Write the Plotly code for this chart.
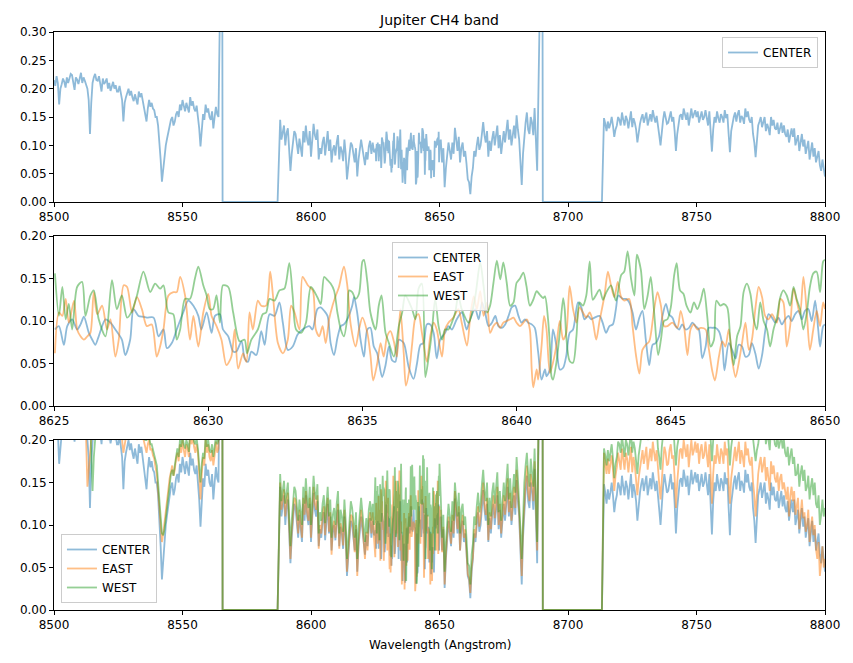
import numpy as np
import plotly.graph_objects as go

# ---------------- wide-range spectra (8500-8800 A, 0.5 A sampling) ----------------
WL_SEG1 = np.arange(8500, 8564.01, 0.5)      # 8500..8564
WL_SEG2A = np.arange(8588, 8624.51, 0.5)     # 8588..8624.5
WL_SEG2B = np.arange(8650.5, 8688.01, 0.5)   # 8650.5..8688
WL_SEG3 = np.arange(8714, 8800.01, 0.5)      # 8714..8800
GAP1_WL = [8565.4, 8565.6, 8587.0]
GAP2_WL = [8690.0, 8690.2, 8713.2]
GAP_FLUX = [0.62, 0.0, 0.0]

CENTER_SEG1 = [.215, .205, .222, .210, .172, .200, .208, .218, .212, .202, .220, .210, .218, .226, .224, .212,
               .198, .220, .216, .208, .222, .228, .210, .220, .214, .205, .200, .180, .120, .175, .210, .220,
               .226, .215, .214, .222, .205, .195, .218, .208, .212, .218, .200, .210, .196, .205, .212, .200,
               .206, .195, .195, .205, .190, .180, .142, .175, .185, .195, .200, .188, .196, .185, .178, .190,
               .183, .172, .195, .185, .192, .180, .170, .160, .142, .165, .180, .168, .175, .165, .162, .150,
               .150, .135, .110, .075, .036, .060, .090, .100, .112, .125, .135, .145, .150, .135, .142, .155,
               .160, .150, .172, .162, .180, .168, .160, .175, .168, .158, .185, .170, .178, .165, .160, .170,
               .150, .130, .098, .130, .155, .145, .172, .158, .165, .150, .145, .160, .130, .150, .168, .155,
               .150]
EAST_SEG1 = [.235, .228, .240, .230, .215, .225, .232, .240, .230, .222, .238, .228, .240, .245, .232, .226,
             .225, .238, .236, .228, .235, .242, .228, .236, .230, .200, .145, .170, .200, .225, .232, .240,
             .240, .232, .230, .238, .225, .215, .236, .228, .235, .240, .222, .230, .220, .228, .232, .222,
             .230, .218, .218, .226, .215, .200, .185, .195, .205, .215, .222, .212, .225, .212, .205, .215,
             .210, .200, .222, .210, .215, .205, .198, .188, .185, .195, .200, .188, .190, .182, .178, .168,
             .160, .140, .120, .095, .080, .090, .105, .118, .130, .142, .155, .165, .170, .158, .165, .178,
             .185, .175, .195, .185, .200, .188, .180, .195, .190, .180, .208, .195, .205, .192, .185, .195,
             .185, .160, .130, .160, .180, .170, .200, .185, .195, .180, .175, .188, .170, .182, .198, .185,
             .190]
WEST_SEG1 = [.245, .238, .250, .240, .225, .235, .242, .250, .240, .232, .248, .238, .245, .250, .240, .235,
             .235, .246, .245, .238, .240, .248, .236, .242, .240, .232, .230, .238, .225, .185, .140, .180,
             .215, .232, .240, .232, .235, .242, .245, .236, .240, .246, .232, .240, .230, .238, .240, .230,
             .235, .226, .228, .236, .225, .210, .200, .205, .215, .225, .232, .222, .235, .225, .218, .228,
             .220, .212, .232, .220, .225, .215, .210, .200, .200, .210, .205, .195, .195, .188, .185, .178,
             .170, .150, .130, .105, .090, .088, .095, .108, .120, .138, .150, .160, .165, .158, .170, .182,
             .190, .180, .200, .192, .205, .195, .190, .200, .195, .186, .212, .200, .210, .198, .195, .202,
             .190, .170, .150, .172, .185, .178, .205, .192, .200, .188, .185, .195, .180, .192, .205, .195,
             .200]

CENTER_SEG2A = [.145, .110, .120, .135, .100, .122, .130, .090, .055, .085, .105, .125, .120, .098, .085, .112,
                .095, .080, .125, .105, .135, .110, .100, .125, .080, .105, .138, .118, .110, .128, .075, .095,
                .085, .105, .115, .082, .110, .125, .090, .110, .070, .092, .100, .082, .105, .118, .075, .098,
                .090, .072, .110, .085, .040, .070, .085, .105, .100, .085, .070, .095, .045, .075, .095, .110,
                .095, .078, .065, .088, .075, .098, .108, .085, .105, .088]
CENTER_SEG2B = [.110, .070, .095, .026, .060, .085, .105, .090, .075, .105, .085, .131, .110, .090, .115, .070,
                .095, .105, .080, .090, .068, .040, .035, .014, .045, .060, .090, .080, .100, .115, .092, .100,
                .120, .141, .118, .105, .125, .080, .108, .090, .112, .125, .100, .120, .135, .095, .118, .085,
                .110, .125, .105, .130, .145, .110, .128, .100, .118, .135, .112, .153, .128, .110, .070, .030,
                .085, .120, .140, .158, .128, .120, .150, .140, .118, .166, .110, .055]
EAST_SEG2A = [.150, .118, .128, .142, .110, .130, .138, .098, .060, .092, .112, .132, .130, .105, .090, .118,
              .100, .085, .132, .112, .140, .115, .105, .132, .085, .110, .145, .125, .118, .135, .072, .100,
              .090, .112, .122, .088, .120, .132, .092, .115, .065, .098, .105, .085, .110, .125, .072, .102,
              .095, .076, .118, .090, .045, .075, .090, .112, .110, .090, .068, .100, .040, .080, .100, .118,
              .100, .082, .060, .092, .070, .105, .115, .090, .115, .085]
EAST_SEG2B = [.118, .068, .098, .030, .065, .088, .110, .095, .078, .112, .090, .140, .115, .095, .122, .070,
              .100, .112, .085, .095, .070, .042, .038, .020, .050, .062, .095, .085, .108, .122, .098, .110,
              .130, .150, .125, .112, .132, .082, .115, .095, .120, .135, .108, .130, .145, .100, .125, .090,
              .118, .135, .112, .140, .155, .115, .138, .105, .128, .145, .120, .165, .138, .115, .078, .040,
              .095, .130, .150, .170, .138, .128, .160, .150, .128, .175, .120, .070]
WEST_SEG2A = [.160, .128, .140, .152, .125, .142, .150, .110, .075, .105, .125, .145, .140, .118, .105, .130,
              .115, .100, .145, .125, .155, .130, .120, .145, .100, .125, .158, .138, .130, .148, .090, .115,
              .105, .125, .135, .102, .130, .145, .110, .130, .085, .112, .120, .100, .125, .140, .090, .118,
              .110, .092, .130, .105, .060, .090, .105, .128, .120, .105, .085, .115, .060, .095, .115, .132,
              .115, .098, .080, .108, .090, .118, .128, .105, .125, .100]
WEST_SEG2B = [.132, .085, .112, .045, .080, .100, .125, .110, .092, .128, .105, .150, .130, .110, .138, .090,
              .118, .125, .100, .110, .085, .055, .052, .030, .065, .078, .110, .100, .122, .138, .115, .125,
              .148, .165, .140, .128, .150, .100, .132, .110, .138, .150, .125, .145, .162, .115, .140, .105,
              .135, .150, .128, .155, .172, .130, .155, .120, .145, .160, .138, .180, .155, .130, .095, .060,
              .115, .150, .170, .185, .160, .145, .178, .165, .145, .190, .140, .080]

CENTER_SEG3 = [.148, .138, .125, .142, .130, .138, .150, .135, .115, .128, .135, .150, .145, .135, .158, .145,
               .135, .152, .145, .130, .150, .160, .132, .148, .140, .128, .105, .125, .138, .148, .155, .140,
               .148, .158, .135, .145, .155, .142, .162, .150, .140, .152, .130, .118, .100, .130, .145, .160,
               .150, .138, .140, .152, .160, .142, .150, .125, .090, .120, .140, .152, .155, .145, .165, .152,
               .145, .158, .135, .150, .165, .148, .155, .162, .150, .160, .140, .152, .160, .145, .150, .162,
               .145, .135, .160, .130, .089, .128, .150, .140, .160, .148, .140, .155, .150, .140, .162, .148,
               .155, .120, .088, .125, .140, .150, .158, .142, .155, .162, .140, .152, .148, .138, .165, .150,
               .160, .145, .140, .150, .120, .105, .079, .110, .135, .142, .150, .132, .140, .150, .125, .138,
               .130, .118, .150, .135, .145, .130, .128, .140, .120, .132, .140, .122, .135, .120, .115, .128,
               .105, .118, .130, .115, .130, .100, .110, .118, .090, .102, .120, .098, .110, .085, .095, .108,
               .075, .090, .105, .080, .095, .070, .080, .090, .065, .055, .075, .060, .045]
EAST_SEG3 = [.185, .172, .160, .178, .160, .172, .182, .165, .140, .158, .168, .185, .175, .165, .190, .178,
             .165, .185, .178, .162, .180, .192, .162, .180, .170, .155, .135, .155, .168, .182, .188, .172,
             .180, .192, .165, .178, .190, .175, .198, .185, .175, .188, .160, .148, .130, .160, .175, .192,
             .185, .170, .172, .188, .195, .178, .182, .155, .120, .150, .172, .188, .190, .178, .200, .188,
             .180, .195, .168, .185, .200, .182, .188, .198, .185, .196, .172, .188, .195, .178, .182, .198,
             .180, .168, .195, .160, .125, .160, .182, .172, .195, .180, .172, .190, .185, .172, .198, .182,
             .190, .150, .125, .155, .170, .185, .192, .175, .190, .198, .172, .188, .180, .168, .198, .182,
             .190, .175, .170, .180, .150, .135, .110, .140, .160, .172, .180, .162, .170, .180, .152, .168,
             .155, .140, .175, .160, .170, .155, .150, .162, .140, .155, .160, .142, .150, .138, .130, .145,
             .110, .135, .145, .128, .140, .112, .120, .132, .095, .115, .130, .108, .115, .092, .100, .118,
             .080, .098, .110, .088, .100, .072, .060, .080, .040, .055, .075, .050, .060]
WEST_SEG3 = [.190, .182, .170, .188, .175, .185, .195, .178, .155, .172, .180, .198, .195, .185, .205, .192,
             .180, .200, .195, .182, .200, .210, .185, .198, .190, .175, .160, .182, .195, .208, .215, .202,
             .210, .222, .200, .212, .220, .208, .228, .215, .205, .218, .190, .180, .165, .192, .210, .222,
             .215, .202, .205, .218, .225, .210, .215, .190, .170, .192, .205, .218, .220, .208, .230, .218,
             .215, .225, .205, .220, .230, .215, .222, .232, .220, .230, .210, .222, .230, .212, .220, .232,
             .215, .205, .228, .200, .175, .200, .215, .205, .225, .212, .210, .222, .215, .205, .228, .215,
             .220, .190, .170, .192, .205, .218, .225, .212, .225, .232, .210, .222, .215, .205, .228, .215,
             .220, .210, .205, .215, .200, .185, .175, .188, .195, .208, .215, .200, .215, .222, .195, .208,
             .200, .188, .215, .200, .210, .195, .192, .205, .190, .198, .205, .190, .200, .185, .180, .192,
             .170, .182, .190, .172, .180, .158, .160, .172, .145, .160, .170, .152, .165, .140, .145, .158,
             .130, .145, .155, .135, .150, .125, .120, .135, .100, .112, .130, .110, .120]

# ---------------- zoomed spectra (8625-8650 A) ----------------
MID_WL0 = 8625.0
CENTER_MID_DWL = [0.03, 0.16, 0.32, 0.43, 0.59, 0.75, 0.86, 0.97, 1.13, 1.24, 1.34, 1.45, 1.67, 1.83, 1.99, 2.20,
                  2.31, 2.47, 2.58, 2.74, 2.90, 3.01, 3.23, 3.39, 3.55, 3.66, 3.82, 3.98, 4.19, 4.35, 4.52, 4.68,
                  4.78, 4.95, 5.11, 5.22, 5.38, 5.48, 5.65, 5.81, 5.91, 6.08, 6.18, 6.29, 6.40, 6.56, 6.72, 6.83,
                  6.99, 7.15, 7.31, 7.42, 7.58, 7.74, 7.90, 8.06, 8.28, 8.38, 8.54, 8.65, 8.76, 8.87, 8.97, 9.08,
                  9.19, 9.30, 9.40, 9.51, 9.67, 9.73, 9.83, 9.94, 10.05, 10.16, 10.26, 10.37, 10.48, 10.64, 10.75,
                  10.86, 10.96, 11.07, 11.18, 11.34, 11.50, 11.66, 11.77, 11.88, 11.98, 12.09, 12.20, 12.31, 12.41,
                  12.52, 12.68, 12.79, 12.90, 13.06, 13.22, 13.38, 13.49, 13.66, 13.77, 13.88, 13.98, 14.09, 14.20,
                  14.31, 14.41, 14.52, 14.63, 14.74, 14.84, 14.95, 15.06, 15.16, 15.27, 15.38, 15.49, 15.59, 15.70,
                  15.81, 15.92, 15.97, 16.08, 16.18, 16.29, 16.40, 16.51, 16.61, 16.72, 16.83, 16.99, 17.10, 17.20,
                  17.31, 17.42, 17.53, 17.69, 17.79, 17.90, 18.01, 18.12, 18.22, 18.30, 18.44, 18.55, 18.65, 18.76,
                  18.87, 18.98, 19.08, 19.19, 19.30, 19.41, 19.51, 19.62, 19.73, 19.84, 19.94, 20.05, 20.16, 20.27,
                  20.37, 20.48, 20.59, 20.70, 20.80, 20.91, 21.02, 21.13, 21.23, 21.34, 21.45, 21.56, 21.67, 21.74,
                  21.88, 21.99, 22.10, 22.20, 22.31, 22.42, 22.53, 22.63, 22.74, 22.85, 22.96, 23.06, 23.17, 23.28,
                  23.39, 23.49, 23.60, 23.71, 23.82, 23.92, 24.03, 24.14, 24.25, 24.35, 24.46, 24.57, 24.68, 24.78,
                  24.84, 24.94, 25.00]
CENTER_MID = [.090, .094, .072, .094, .102, .090, .096, .105, .086, .078, .072, .082, .102, .098, .090, .078,
              .060, .078, .114, .106, .105, .104, .104, .082, .090, .068, .074, .090, .110, .124, .118, .106,
              .090, .110, .086, .106, .108, .090, .082, .064, .064, .076, .056, .052, .064, .060, .088, .072,
              .108, .106, .122, .098, .066, .070, .084, .090, .094, .090, .114, .116, .112, .106, .074, .060,
              .080, .094, .096, .102, .118, .128, .110, .078, .058, .090, .092, .070, .062, .034, .048,
              .070, .054, .052, .078, .074, .046, .032, .050, .072, .074, .096, .096, .086, .056,
              .078, .086, .094, .090, .102, .110, .090, .102, .114, .102, .122, .110, .094, .098,
              .106, .094, .092, .096, .106, .116, .118, .106, .098, .102, .098, .096, .092, .063,
              .031, .043, .035, .043, .090, .071, .043, .045, .059, .086, .090, .122, .116, .102,
              .106, .102, .104, .106, .098, .086, .094, .096, .114, .130, .126, .126, .122, .110,
              .090, .104, .112, .078, .048, .072, .074, .082, .106, .120, .108, .104, .094, .090,
              .096, .090, .092, .098, .094, .090, .056, .070, .092, .092, .092, .088, .072, .042,
              .074, .066, .056, .072, .070, .058, .060, .074, .062, .044, .060, .088, .108, .104,
              .098, .104, .096, .102, .106, .100, .108, .112, .102, .112, .114, .100, .124, .090,
              .070, .094, .096]

EAST_MID_DWL = [0.03, 0.16, 0.27, 0.38, 0.48, 0.65, 0.75, 0.86, 0.97, 1.08, 1.18, 1.29, 1.40, 1.56, 1.72, 1.83,
                1.99, 2.10, 2.26, 2.37, 2.53, 2.69, 2.85, 3.01, 3.17, 3.33, 3.44, 3.55, 3.71, 3.87, 3.98, 4.09,
                4.25, 4.41, 4.52, 4.68, 4.84, 5.00, 5.11, 5.27, 5.43, 5.59, 5.75, 5.86, 5.97, 6.13, 6.24, 6.34,
                6.45, 6.61, 6.72, 6.88, 7.01, 7.10, 7.26, 7.42, 7.58, 7.69, 7.80, 7.96, 8.06, 8.23, 8.39, 8.49,
                8.60, 8.71, 8.81, 8.92, 9.03, 9.14, 9.24, 9.40, 9.51, 9.62, 9.78, 9.89, 10.00, 10.16, 10.26, 10.35,
                10.48, 10.59, 10.69, 10.80, 10.91, 11.02, 11.12, 11.23, 11.34, 11.41, 11.52, 11.61, 11.72, 11.82,
                11.93, 12.09, 12.20, 12.31, 12.41, 12.58, 12.68, 12.79, 12.95, 13.11, 13.22, 13.39, 13.50, 13.61,
                13.71, 13.82, 13.93, 14.04, 14.14, 14.25, 14.36, 14.47, 14.57, 14.68, 14.79, 14.90, 15.00, 15.11,
                15.22, 15.33, 15.43, 15.49, 15.54, 15.65, 15.70, 15.81, 15.89, 15.97, 16.08, 16.18, 16.29, 16.40,
                16.51, 16.61, 16.72, 16.83, 16.94, 17.04, 17.15, 17.26, 17.37, 17.47, 17.58, 17.69, 17.85, 17.96,
                18.06, 18.17, 18.28, 18.39, 18.49, 18.65, 18.76, 18.87, 18.98, 19.08, 19.19, 19.30, 19.46, 19.57,
                19.68, 19.78, 19.89, 20.05, 20.21, 20.32, 20.43, 20.54, 20.64, 20.75, 20.86, 20.97, 21.13, 21.23,
                21.34, 21.43, 21.56, 21.67, 21.77, 21.88, 21.99, 22.10, 22.20, 22.31, 22.42, 22.53, 22.63, 22.74,
                22.85, 22.96, 23.06, 23.17, 23.28, 23.44, 23.55, 23.65, 23.76, 23.87, 23.98, 24.08, 24.19, 24.30,
                24.41, 24.51, 24.62, 24.73, 24.84, 24.94, 25.00]
EAST_MID = [.062, .110, .106, .126, .098, .124, .090, .082, .078, .082, .086, .134, .108, .118, .090, .102,
            .058, .078, .142, .140, .110, .128, .114, .094, .096, .058, .070, .090, .130, .134, .134, .152,
            .130, .078, .106, .070, .110, .132, .106, .094, .078, .048, .058, .090, .044, .062, .052, .110,
            .090, .124, .118, .118, .158, .130, .074, .062, .078, .118, .110, .090, .152, .142, .136, .090,
            .082, .094, .074, .102, .118, .130, .140, .164, .142, .096, .070, .090, .104, .086, .060, .030,
            .050, .074, .058, .082, .088, .076, .058, .114, .062, .024, .042, .072, .104, .108,
            .086, .052, .082, .098, .090, .058, .090, .098, .104, .114, .098, .071, .106, .129,
            .114, .135, .106, .122, .086, .094, .098, .092, .098, .100, .102, .104, .098, .094,
            .098, .102, .090, .043, .022, .043, .031, .071, .106, .090, .039, .051, .071, .100,
            .078, .086, .141, .114, .098, .116, .110, .104, .110, .100, .078, .100, .130, .158,
            .142, .128, .146, .128, .124, .126, .094, .060, .038, .066, .072, .076, .114, .134,
            .118, .094, .094, .098, .092, .112, .094, .060, .090, .096, .090, .092, .090, .068,
            .042, .030, .058, .076, .070, .090, .054, .034, .050, .074, .098, .066, .078, .114,
            .140, .128, .106, .102, .108, .098, .126, .122, .070, .094, .138, .124, .108, .152,
            .110, .066, .090, .112, .094, .122, .114]

WEST_MID_DWL = [0.03, 0.16, 0.27, 0.38, 0.48, 0.59, 0.75, 0.91, 1.02, 1.18, 1.29, 1.45, 1.67, 1.88, 2.04, 2.20,
                2.37, 2.53, 2.69, 2.90, 3.12, 3.28, 3.44, 3.55, 3.71, 3.87, 3.98, 4.09, 4.25, 4.41, 4.57, 4.68,
                4.84, 4.95, 5.05, 5.16, 5.27, 5.38, 5.48, 5.65, 5.81, 6.02, 6.18, 6.26, 6.40, 6.61, 6.77, 6.88,
                6.99, 7.15, 7.31, 7.47, 7.63, 7.74, 7.85, 8.01, 8.17, 8.33, 8.54, 8.65, 8.76, 8.87, 8.97, 9.08,
                9.19, 9.30, 9.40, 9.51, 9.57, 9.67, 9.78, 9.89, 10.00, 10.05, 10.16, 10.26, 10.43, 10.53, 10.62,
                10.75, 10.86, 11.02, 11.18, 11.29, 11.39, 11.61, 11.72, 11.82, 11.93, 12.04, 12.15, 12.25, 12.36,
                12.47, 12.58, 12.68, 12.79, 12.90, 13.01, 13.11, 13.22, 13.45, 13.66, 13.82, 13.93, 14.04, 14.14,
                14.25, 14.36, 14.47, 14.57, 14.68, 14.79, 14.90, 15.00, 15.11, 15.22, 15.32, 15.43, 15.54, 15.65,
                15.75, 15.86, 15.92, 16.02, 16.08, 16.13, 16.18, 16.29, 16.40, 16.51, 16.56, 16.61, 16.72, 16.83,
                16.94, 17.04, 17.15, 17.26, 17.37, 17.47, 17.58, 17.69, 17.80, 17.90, 18.06, 18.22, 18.39, 18.49,
                18.60, 18.71, 18.82, 18.90, 19.03, 19.14, 19.25, 19.35, 19.46, 19.59, 19.68, 19.78, 19.89, 20.00,
                20.11, 20.19, 20.30, 20.41, 20.51, 20.64, 20.75, 20.86, 20.97, 21.07, 21.18, 21.29, 21.40, 21.48,
                21.61, 21.72, 21.83, 21.93, 22.04, 22.15, 22.26, 22.36, 22.47, 22.58, 22.69, 22.79, 22.90, 23.01,
                23.12, 23.22, 23.33, 23.44, 23.55, 23.65, 23.76, 23.87, 23.98, 24.08, 24.19, 24.30, 24.41, 24.51,
                24.62, 24.73, 24.84, 24.94, 25.00]
WEST_MID = [.156, .106, .140, .102, .120, .090, .140, .146, .106, .130, .136, .102, .082, .148, .114, .130,
            .104, .112, .130, .158, .134, .144, .138, .142, .110, .108, .078, .090, .126, .126, .150, .164,
            .142, .130, .114, .114, .130, .098, .142, .140, .110, .076, .078, .062, .078, .090, .108, .110,
            .126, .124, .136, .138, .168, .130, .090, .086, .098, .140, .128, .120, .152, .148, .144, .136,
            .110, .090, .082, .104, .136, .134, .126, .132, .170, .172, .146, .110, .090, .118, .130,
            .086, .074, .058, .094, .110, .130, .114, .102, .138, .144, .034, .058, .086, .126,
            .094, .078, .090, .090, .098, .110, .130, .114, .098, .129, .169, .141, .110, .118,
            .145, .171, .149, .169, .145, .118, .122, .145, .150, .157, .141, .118, .125, .135,
            .131, .127, .129, .102, .071, .035, .031, .051, .086, .127, .114, .082, .053, .051,
            .082, .122, .118, .130, .170, .125, .131, .137, .125, .133, .142, .124, .154, .158,
            .182, .150, .130, .178, .160, .114, .130, .152, .110, .060, .078, .100, .102, .116,
            .154, .168, .136, .132, .118, .110, .122, .114, .124, .138, .106, .070, .078, .124,
            .118, .120, .116, .078, .048, .082, .094, .134, .144, .132, .102, .090, .122, .100,
            .090, .070, .090, .104, .128, .136, .130, .118, .140, .126, .114, .090, .110, .140,
            .156, .158, .134, .170, .172]

X_TICKS_WIDE = [8500, 8550, 8600, 8650, 8700, 8750, 8800]
X_TICKS_MID = [8625, 8630, 8635, 8640, 8645, 8650]
Y_TICKS_TOP = [0.0, 0.05, 0.10, 0.15, 0.20, 0.25, 0.30]
Y_TICKS_LOW = [0.0, 0.05, 0.10, 0.15, 0.20]

for a, b in [(CENTER_MID_DWL, CENTER_MID), (EAST_MID_DWL, EAST_MID), (WEST_MID_DWL, WEST_MID)]:
    assert len(a) == len(b), (len(a), len(b))
for grid, arrs in [(WL_SEG1, [CENTER_SEG1, EAST_SEG1, WEST_SEG1]),
                   (WL_SEG2A, [CENTER_SEG2A, EAST_SEG2A, WEST_SEG2A]),
                   (WL_SEG2B, [CENTER_SEG2B, EAST_SEG2B, WEST_SEG2B]),
                   (WL_SEG3, [CENTER_SEG3, EAST_SEG3, WEST_SEG3])]:
    for s in arrs:
        assert len(s) == len(grid), (len(s), len(grid))


def wide(s1, s2a, mid_dwl, mid, s2b, s3):
    wl = np.concatenate([WL_SEG1, GAP1_WL, WL_SEG2A, MID_WL0 + np.array(mid_dwl), WL_SEG2B, GAP2_WL, WL_SEG3])
    fl = np.concatenate([s1, GAP_FLUX, s2a, mid, s2b, GAP_FLUX, s3])
    return wl, fl


center_wl, center_w = wide(CENTER_SEG1, CENTER_SEG2A, CENTER_MID_DWL, CENTER_MID, CENTER_SEG2B, CENTER_SEG3)
east_wl, east_w = wide(EAST_SEG1, EAST_SEG2A, EAST_MID_DWL, EAST_MID, EAST_SEG2B, EAST_SEG3)
west_wl, west_w = wide(WEST_SEG1, WEST_SEG2A, WEST_MID_DWL, WEST_MID, WEST_SEG2B, WEST_SEG3)

C_BLUE, C_ORANGE, C_GREEN = "#1f77b4", "#ff7f0e", "#2ca02c"
LW = 1.8
FONT = "DejaVu Sans"

fig = go.Figure()

fig.add_trace(go.Scatter(x=center_wl, y=center_w, mode="lines", name="CENTER",
                         line=dict(color=C_BLUE, width=LW), opacity=0.5,
                         xaxis="x", yaxis="y", legend="legend"))
for dwl, fl, nm, col in [(CENTER_MID_DWL, CENTER_MID, "CENTER", C_BLUE),
                         (EAST_MID_DWL, EAST_MID, "EAST", C_ORANGE),
                         (WEST_MID_DWL, WEST_MID, "WEST", C_GREEN)]:
    fig.add_trace(go.Scatter(x=MID_WL0 + np.array(dwl), y=fl, mode="lines", name=nm,
                             line=dict(color=col, width=LW, shape="spline", smoothing=0.8),
                             opacity=0.5, xaxis="x2", yaxis="y2", legend="legend2"))
for wl, fl, nm, col in [(center_wl, center_w, "CENTER", C_BLUE), (east_wl, east_w, "EAST", C_ORANGE),
                        (west_wl, west_w, "WEST", C_GREEN)]:
    fig.add_trace(go.Scatter(x=wl, y=fl, mode="lines", name=nm,
                             line=dict(color=col, width=LW), opacity=0.5,
                             xaxis="x3", yaxis="y3", legend="legend3"))

axis_common = dict(showline=True, mirror=True, linecolor="black", linewidth=1,
                   ticks="outside", ticklen=4, tickwidth=1, tickcolor="black",
                   showgrid=False, zeroline=False,
                   tickfont=dict(family=FONT, size=12, color="black"))

# page body adds an 8px offset; work in screen pixels and subtract it
OFF = 8
W, H = 853 - OFF, 663 - OFF
L, T = 50 - OFF, 32 - OFF
R = W - (825 - OFF)
B = H - (610 - OFF)
ph = H - T - B
pw = W - L - R


def ypap(screen_y):
    return (H - B - (screen_y - OFF)) / ph


def xpap(screen_x):
    return ((screen_x - OFF) - L) / pw


def dom(top_px, bot_px):
    return [ypap(bot_px), ypap(top_px)]


legend_common = dict(bgcolor="rgba(255,255,255,0.8)", bordercolor="#cccccc", borderwidth=1,
                     font=dict(family=FONT, size=12, color="black"), xref="paper", yref="paper")

fig.update_layout(
    width=W, height=H,
    margin=dict(l=L, r=R, t=T, b=B),
    paper_bgcolor="white", plot_bgcolor="white",
    font=dict(family=FONT, size=12, color="black"),
    showlegend=True,
    title=dict(text="Jupiter CH4 band", x=0.5, xref="paper", y=1 - (20 - OFF) / H, yref="container",
               xanchor="center", yanchor="middle", font=dict(family=FONT, size=14, color="black")),
    xaxis=dict(domain=[0, 1], range=[8500, 8800], tickvals=X_TICKS_WIDE, anchor="y", **axis_common),
    yaxis=dict(domain=dom(32, 202), range=[0, 0.3], tickvals=Y_TICKS_TOP, tickformat=".2f", anchor="x",
               **axis_common),
    xaxis2=dict(domain=[0, 1], range=[8625, 8650], tickvals=X_TICKS_MID, anchor="y2", **axis_common),
    yaxis2=dict(domain=dom(236, 406), range=[0, 0.2], tickvals=Y_TICKS_LOW, tickformat=".2f", anchor="x2",
                **axis_common),
    xaxis3=dict(domain=[0, 1], range=[8500, 8800], tickvals=X_TICKS_WIDE, anchor="y3", **axis_common),
    yaxis3=dict(domain=dom(440, 610), range=[0, 0.2], tickvals=Y_TICKS_LOW, tickformat=".2f", anchor="x3",
                **axis_common),
    legend=dict(x=xpap(818), y=ypap(37), xanchor="right", yanchor="top", **legend_common),
    legend2=dict(x=xpap(438), y=ypap(242), xanchor="center", yanchor="top", **legend_common),
    legend3=dict(x=xpap(57), y=ypap(603), xanchor="left", yanchor="bottom", **legend_common),
    annotations=[dict(text="Wavelength (Angstrom)", x=0.5, xref="paper", y=ypap(645), yref="paper",
                      xanchor="center", yanchor="middle", showarrow=False,
                      font=dict(family=FONT, size=12, color="black"))],
)

fig.write_html("out.html")
